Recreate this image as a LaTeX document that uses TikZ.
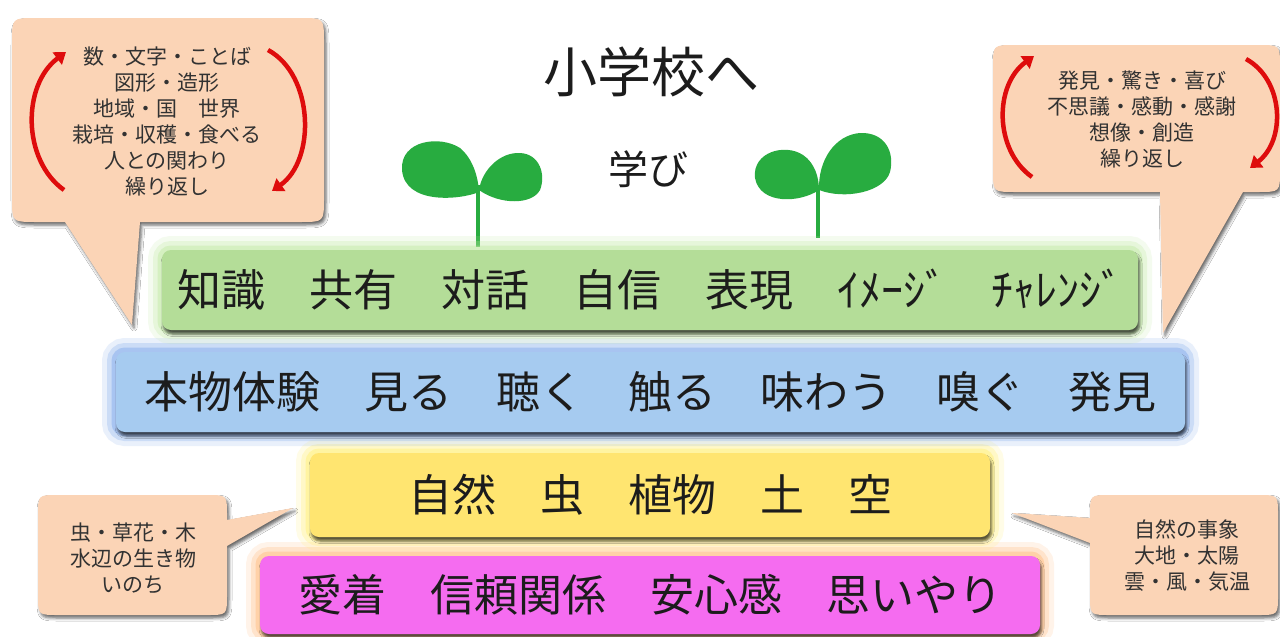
\documentclass[tikz,border=0pt]{standalone}
\usepackage{fontspec}
\setmainfont{Noto Sans CJK JP}
\usetikzlibrary{arrows.meta,shadows.blur}
\definecolor{peach}{RGB}{251,212,182}
\definecolor{barG}{RGB}{180,221,152}
\definecolor{barB}{RGB}{166,203,240}
\definecolor{barY}{RGB}{255,229,112}
\definecolor{barM}{RGB}{245,108,240}
\definecolor{glowG}{RGB}{190,232,160}
\definecolor{glowB}{RGB}{120,165,235}
\definecolor{glowY}{RGB}{255,240,110}
\definecolor{glowM}{RGB}{255,185,120}
\definecolor{leaf}{RGB}{40,172,64}
\definecolor{arcred}{RGB}{222,12,12}
\definecolor{ink}{RGB}{28,28,28}
\definecolor{softink}{RGB}{50,50,50}
\begin{document}
\begin{tikzpicture}[x=1pt,y=-1pt,
  glow/.style={preaction={draw=#1,opacity=0.16,line width=28pt},
               preaction={draw=#1,opacity=0.26,line width=18pt},
               preaction={draw=#1,opacity=0.42,line width=9pt}},
  bar/.style={rounded corners=9pt, fill=#1, inner sep=0pt, text=ink,
     font=\fontsize{44}{50}\selectfont,
     blur shadow={shadow xshift=1.5pt, shadow yshift=-4pt, shadow blur radius=2.5pt, shadow opacity=65}},
  bubble/.style={fill=peach, blur shadow={shadow xshift=2pt, shadow yshift=-3pt, shadow blur radius=3pt, shadow opacity=60}},
  bubbletext/.style={text=softink, align=center, font=\fontsize{21}{26}\selectfont, inner sep=0pt},
  redarc/.style={draw=arcred, line width=4.5pt, -{Triangle[length=11pt,width=15pt]}},
  stem/.style={draw=leaf, line width=4pt},
]
\useasboundingbox (0,0) rectangle (1280,637);
\fill[white] (0,0) rectangle (1280,637);

% sprouts
\draw[stem] (478,185) -- (478,247);
\fill[leaf] (479,192) .. controls (460,200) and (405,205) .. (402,170) .. controls (400,140) and (440,135) .. (460,148) .. controls (472,158) and (478,175) .. (479,192) -- cycle;
\fill[leaf] (479,190) .. controls (482,170) and (500,152) .. (520,153) .. controls (540,154) and (546,175) .. (540,190) .. controls (532,205) and (500,205) .. (479,190) -- cycle;
\draw[stem] (818,185) -- (818,238);
\fill[leaf] (819,190) .. controls (800,203) and (760,205) .. (755,178) .. controls (752,152) and (785,143) .. (803,155) .. controls (815,163) and (819,178) .. (819,190) -- cycle;
\fill[leaf] (819,190) .. controls (818,160) and (835,135) .. (860,133) .. controls (885,132) and (895,152) .. (890,172) .. controls (884,192) and (845,200) .. (819,190) -- cycle;

% titles
\node[font=\fontsize{54}{60}\selectfont, text=ink] (title) at (651,72) {小学校へ};
\node[font=\fontsize{40}{46}\selectfont, text=ink] (manabi) at (648,169) {学び};

% bars
\node[glow=glowM, bar=barM, minimum width=780pt, minimum height=78pt] (love) at (650,595) {愛着　信頼関係　安心感　思いやり};
\node[glow=glowY, bar=barY, minimum width=680pt, minimum height=84pt] (nature) at (650,495) {自然　虫　植物　土　空};
\node[glow=glowB, bar=barB, minimum width=1069pt, minimum height=80pt] (real) at (650.5,392) {本物体験　見る　聴く　触る　味わう　嗅ぐ　発見};
\node[glow=glowG, bar=barG, minimum width=976pt, minimum height=80pt] (know) at (650,290) {知識　共有　対話　自信　表現　ｲﾒｰｼﾞ　ﾁｬﾚﾝｼﾞ};

% top-left callout
\path[bubble] (36,18) -- (300,18) .. controls (324,18) .. (324,42) -- (324,198)
  .. controls (324,222) .. (300,222) -- (140,222) -- (132,325) -- (65,222) -- (36,222)
  .. controls (12,222) .. (12,198) -- (12,42) .. controls (12,18) .. (36,18) -- cycle;
\draw[redarc] (64,190) .. controls (22,160) and (22,85) .. (66,52);
\draw[redarc] (268,50) .. controls (314,75) and (316,160) .. (272,191);
\node[bubbletext] (tlText) at (167,121.5) {数・文字・ことば\\図形・造形\\地域・国　世界\\栽培・収穫・食べる\\人との関わり\\繰り返し};

% top-right callout
\path[bubble] (1015,45) -- (1258,45) .. controls (1280,45) .. (1280,67) -- (1280,170)
  .. controls (1280,192) .. (1258,192) -- (1243,192) -- (1163,333) -- (1160,192) -- (1015,192)
  .. controls (993,192) .. (993,170) -- (993,67) .. controls (993,45) .. (1015,45) -- cycle;
\draw[redarc] (1032,177) .. controls (994,150) and (994,85) .. (1034,56);
\draw[redarc] (1246,59) .. controls (1284,80) and (1286,140) .. (1250,168);
\node[bubbletext] (trText) at (1142,119) {発見・驚き・喜び\\不思議・感動・感謝\\想像・創造\\繰り返し};

% bottom-left callout
\path[bubble] (58,495) -- (207,495) .. controls (227,495) .. (227,515) -- (227,520) -- (293,508)
  -- (227,546) -- (227,595) .. controls (227,615) .. (207,615) -- (58,615)
  .. controls (38,615) .. (38,595) -- (38,515) .. controls (38,495) .. (58,495) -- cycle;
\node[bubbletext] (blText) at (133,558) {虫・草花・木\\水辺の生き物\\いのち};

% bottom-right callout
\path[bubble] (1110,495) -- (1258,495) .. controls (1278,495) .. (1278,515) -- (1278,595)
  .. controls (1278,615) .. (1258,615) -- (1110,615) .. controls (1090,615) .. (1090,595)
  -- (1090,543) -- (1012,513) -- (1090,518) -- (1090,515) .. controls (1090,495) .. (1110,495) -- cycle;
\node[bubbletext] (brText) at (1187,556) {自然の事象\\大地・太陽\\雲・風・気温};
\end{tikzpicture}
\end{document}
